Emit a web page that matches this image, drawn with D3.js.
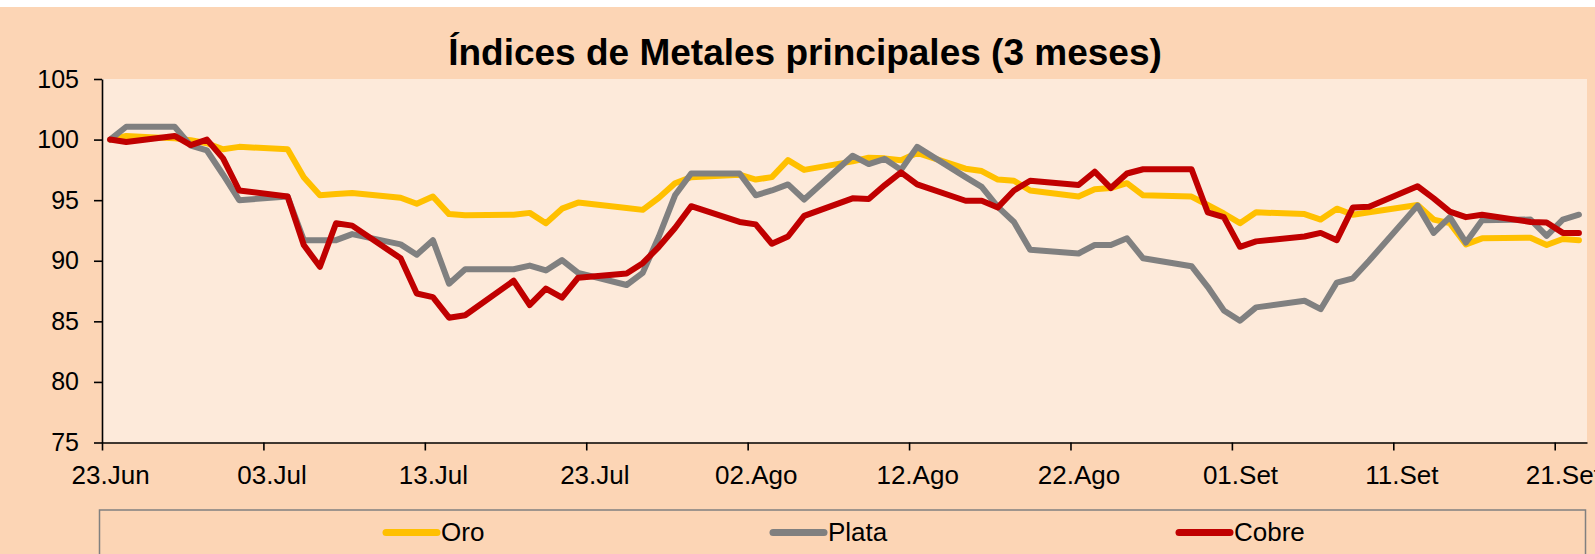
<!DOCTYPE html>
<meta charset="utf-8">
<script src="https://d3js.org/d3.v7.min.js"></script>
<style>
  body { margin: 0; background: #fff; }
  text { font-family: "Liberation Sans", Arial, sans-serif; fill: #000; }
</style>
<div id="my_dataviz"></div>
<script>

// trading days, 23 Jun - 22 Sep
const dates = [
  "2022-06-23","2022-06-24","2022-06-27","2022-06-28","2022-06-29","2022-06-30",
  "2022-07-01","2022-07-04","2022-07-05","2022-07-06","2022-07-07","2022-07-08",
  "2022-07-11","2022-07-12","2022-07-13","2022-07-14","2022-07-15","2022-07-18",
  "2022-07-19","2022-07-20","2022-07-21","2022-07-22","2022-07-25","2022-07-26",
  "2022-07-27","2022-07-28","2022-07-29",
  "2022-08-01","2022-08-02","2022-08-03","2022-08-04","2022-08-05","2022-08-08",
  "2022-08-09","2022-08-10","2022-08-11","2022-08-12","2022-08-15","2022-08-16",
  "2022-08-17","2022-08-18","2022-08-19","2022-08-22","2022-08-23","2022-08-24",
  "2022-08-25","2022-08-26","2022-08-29","2022-08-30","2022-08-31",
  "2022-09-01","2022-09-02","2022-09-05","2022-09-06","2022-09-07","2022-09-08",
  "2022-09-09","2022-09-12","2022-09-13","2022-09-14","2022-09-15","2022-09-16",
  "2022-09-19","2022-09-20","2022-09-21","2022-09-22"
];

const oro = [
  100, 100.3, 100.1, 99.95, 99.7, 99.2,
  99.4, 99.2, 96.9, 95.4, 95.5, 95.6, 95.2, 94.7, 95.3, 93.85, 93.75, 93.8, 93.95, 93.1,
  94.3, 94.8, 94.35, 94.2, 95.2, 96.4, 96.9,
  97.1, 96.7, 96.9, 98.3, 97.5, 98.2, 98.5, 98.45, 98.3, 98.9, 97.6, 97.4, 96.7, 96.6,
  95.8, 95.3, 95.9, 96.0, 96.4, 95.4, 95.3, 94.6, 93.9,
  93.1, 94.0, 93.85, 93.4, 94.3, 93.8, 94.0, 94.6, 93.4, 93.1, 91.35, 91.85, 91.9, 91.3,
  91.8, 91.7
];

const plata = [
  100, 101.06, 101.06, 99.5, 99.1, 97.1,
  95.0, 95.3, 91.7, 91.7, 91.7, 92.2, 91.35, 90.5, 91.7, 88.1, 89.3, 89.3, 89.6, 89.2,
  90.05, 89.0, 88.0, 89.0, 92.0, 95.4, 97.2,
  97.2, 95.4, 95.8, 96.3, 95.05, 98.67, 97.98, 98.4, 97.5, 99.4, 96.9, 96.1, 94.45, 93.2,
  90.9, 90.6, 91.3, 91.3, 91.85, 90.2, 89.55, 87.85, 85.9,
  85.05, 86.15, 86.7, 86.0, 88.2, 88.55, 90.0, 94.55, 92.3, 93.6, 91.5, 93.35, 93.4, 92.05,
  93.4, 93.8
];

const cobre = [
  100, 99.8, 100.3, 99.55, 100.0, 98.45,
  95.8, 95.3, 91.3, 89.5, 93.1, 92.9, 90.2, 87.3, 87.0, 85.3, 85.5, 88.35, 86.35, 87.7,
  86.95, 88.6, 88.95, 89.8, 91.15, 92.7, 94.5,
  93.2, 93.0, 91.4, 92.0, 93.7, 95.15, 95.1, 96.25, 97.3, 96.3, 94.95, 94.95, 94.4, 95.8,
  96.6, 96.25, 97.35, 96.0, 97.2, 97.55, 97.55, 94.0, 93.6,
  91.15, 91.6, 92.0, 92.3, 91.7, 94.4, 94.45, 96.15, 95.15, 94.05, 93.6, 93.8, 93.2, 93.15,
  92.3, 92.3
];

const seriesNames = ["Oro", "Plata", "Cobre"];
const xTickLabels = ["23.Jun","03.Jul","13.Jul","23.Jul","02.Ago","12.Ago","22.Ago","01.Set","11.Set","21.Set"];
const yTicks = [75, 80, 85, 90, 95, 100, 105];

const width = 1595, height = 554;
const plot = {left: 102, right: 1587, top: 79, bottom: 442.5};
const colors = ["#FFC000", "#808080", "#C00000"];

const parse = d3.timeParse("%Y-%m-%d");

const svg = d3.select("#my_dataviz")
  .append("svg")
    .attr("width", width)
    .attr("height", height);

// chart background
svg.append("rect")
  .attr("x", 0).attr("y", 7)
  .attr("width", width).attr("height", height - 7)
  .attr("fill", "#FCD5B5");

svg.append("rect")
  .attr("x", plot.left).attr("y", plot.top)
  .attr("width", plot.right - plot.left).attr("height", plot.bottom - plot.top)
  .attr("fill", "#FDEADA");

// scales
const x = d3.scaleTime()
  .domain([parse("2022-06-23"), parse("2022-09-23")])
  .range([plot.left, plot.right]);

const y = d3.scaleLinear()
  .domain([75, 105])
  .range([plot.bottom, plot.top]);

const tickDates = xTickLabels.map((d, i) => d3.timeDay.offset(parse("2022-06-23"), i * 10));
const halfDay = x(d3.timeHour.offset(parse("2022-06-23"), 12)) - x(parse("2022-06-23"));

// lines (points sit in the middle of each day)
const series = [oro, plata, cobre].map((vals, k) => ({
  name: seriesNames[k],
  color: colors[k],
  values: vals.map((v, i) => ({date: d3.timeHour.offset(parse(dates[i]), 12), value: v}))
}));

const line = d3.line()
  .x(d => x(d.date))
  .y(d => y(d.value));

svg.append("g")
  .selectAll("path")
  .data(series)
  .join("path")
    .attr("d", d => line(d.values))
    .attr("fill", "none")
    .attr("stroke", d => d.color)
    .attr("stroke-width", 6)
    .attr("stroke-linejoin", "round")
    .attr("stroke-linecap", "round");

// X axis
const xAxis = svg.append("g")
  .attr("transform", `translate(0, ${plot.bottom})`)
  .call(d3.axisBottom(x)
    .tickValues(tickDates)
    .tickFormat((d, i) => xTickLabels[i])
    .tickSize(8)
    .tickSizeOuter(0)
    .tickPadding(15));
xAxis.select(".domain").attr("stroke", "#000").attr("stroke-width", 1.6);
xAxis.selectAll(".tick line").attr("stroke", "#000").attr("stroke-width", 1.6);
// labels centred on the day, not on the tick
xAxis.selectAll(".tick text")
  .attr("x", halfDay)
  .attr("font-size", 26)
  .attr("font-family", "Liberation Sans, Arial, sans-serif");

// Y axis
const yAxis = svg.append("g")
  .attr("transform", `translate(${plot.left}, 0)`)
  .call(d3.axisLeft(y)
    .tickValues(yTicks)
    .tickSize(8)
    .tickSizeOuter(0)
    .tickPadding(15));
yAxis.select(".domain").attr("stroke", "#000").attr("stroke-width", 1.6);
yAxis.selectAll(".tick line").attr("stroke", "#000").attr("stroke-width", 1.6);
yAxis.selectAll(".tick text")
  .attr("font-size", 25)
  .attr("font-family", "Liberation Sans, Arial, sans-serif");

// title
svg.append("text")
  .attr("x", 805)
  .attr("y", 65)
  .attr("text-anchor", "middle")
  .attr("font-size", 37)
  .attr("font-weight", "bold")
  .text("Índices de Metales principales (3 meses)");

// legend
const legend = svg.append("g").attr("class", "legend");

legend.append("rect")
  .attr("x", 99.5).attr("y", 510)
  .attr("width", 1486).attr("height", 60)
  .attr("fill", "none")
  .attr("stroke", "#808080")
  .attr("stroke-width", 1.5);

const legendX = [383, 770, 1176];

const items = legend.selectAll("g.item")
  .data(series)
  .join("g")
    .attr("class", "item")
    .attr("transform", (d, i) => `translate(${legendX[i]}, 532.5)`);

items.append("line")
  .attr("x1", 3).attr("x2", 54)
  .attr("stroke", d => d.color)
  .attr("stroke-width", 7)
  .attr("stroke-linecap", "round");

items.append("text")
  .attr("x", 58)
  .attr("y", 8.5)
  .attr("font-size", 26)
  .text(d => d.name);

</script>
